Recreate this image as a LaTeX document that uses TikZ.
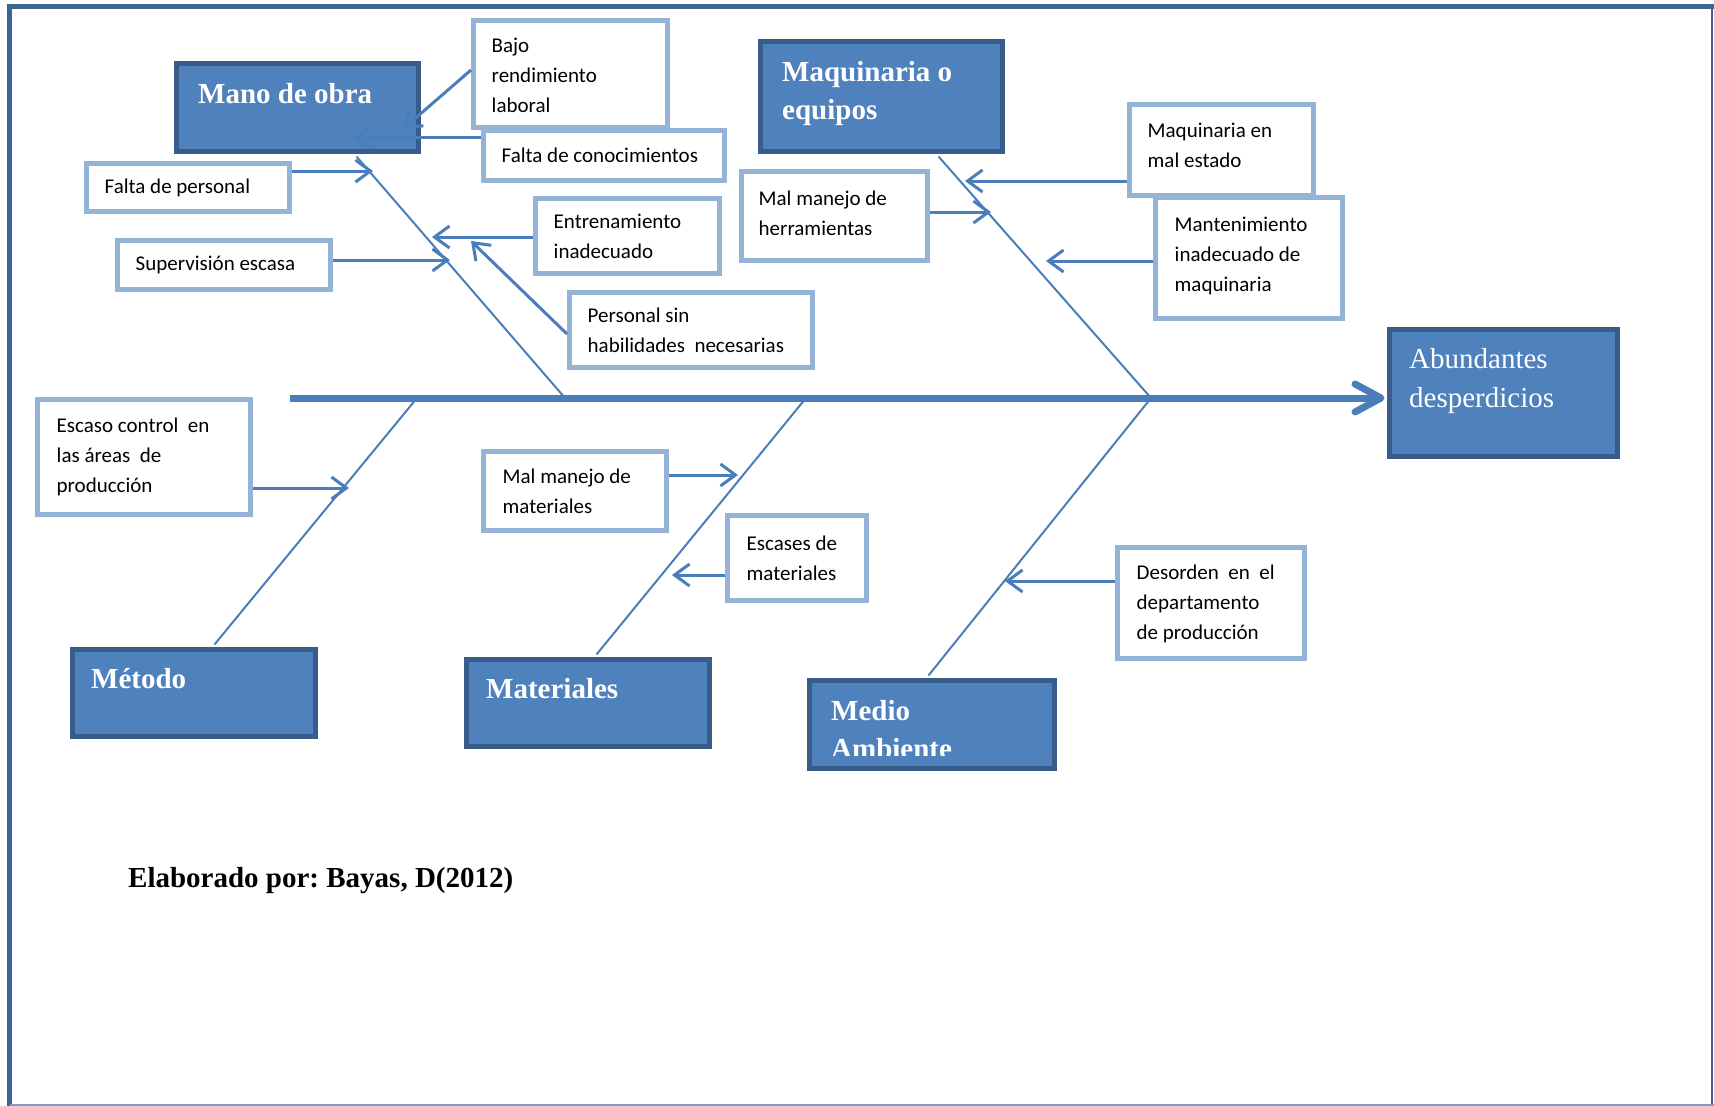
\documentclass[tikz,border=0pt]{standalone}
\usepackage{fontspec}
\setmainfont{Liberation Serif}
\newfontfamily\calfont{Carlito}
\usetikzlibrary{arrows.meta,calc}
\definecolor{boxfill}{HTML}{4F81BD}
\definecolor{boxline}{HTML}{385D8A}
\definecolor{lightline}{HTML}{95B3D7}
\definecolor{conn}{HTML}{4A7EBB}
\definecolor{framecol}{HTML}{3C6494}
\definecolor{framelight}{HTML}{7F9DC0}
\frenchspacing
\begin{document}
\begin{tikzpicture}[x=1pt,y=-1pt,
  bigbox/.style={draw=boxline, fill=boxfill, line width=5pt, rectangle, inner sep=0pt},
  bigtext/.style={text=white, font=\bfseries\fontsize{29}{38}\selectfont, anchor=base west, inner sep=0pt},
  regtext/.style={text=white, font=\fontsize{29}{38}\selectfont, anchor=base west, inner sep=0pt},
  sbox/.style={draw=lightline, fill=white, line width=5pt, rectangle, inner sep=0pt},
  stext/.style={font=\calfont\fontsize{21}{30}\selectfont, align=left, anchor=west, inner sep=0pt},
  bone/.style={draw=conn, line width=2pt},
  cause/.style={draw=conn, line width=3pt, -{Straight Barb[length=15pt,width=22pt]}},
  spine/.style={draw=conn, line width=7pt}]
\useasboundingbox (0,0) rectangle (1714,1106);
\fill[white] (0,0) rectangle (1714,1106);
% frame
\draw[framecol, line width=5pt] (9.5,1106) -- (9.5,6.5) -- (1714,6.5);
\draw[framecol, line width=2pt] (1712,6.5) -- (1712,1106);
\draw[framelight, line width=2pt] (9.5,1105) -- (1714,1105);

% spine
\coordinate (spinestart) at (290,398);
\coordinate (tip) at (1381,398);
\draw[spine] (spinestart) -- (tip);
\draw[spine, line cap=round, line join=round] ($(tip)+(-26,-14)$) -- (tip) -- ($(tip)+(-26,14)$);

% spine junctions
\coordinate (j1) at (565,398);
\coordinate (j2) at (1151,398);
\coordinate (j3) at (417,398);
\coordinate (j4) at (806,398);
\coordinate (j5) at (1151,398);

% main category boxes
\node[bigbox, minimum width=242pt, minimum height=88pt] (mano) at (297.5,107.5) {};
\node[bigbox, minimum width=242pt, minimum height=110pt] (maquin) at (881.5,96.5) {};
\node[bigbox, minimum width=228pt, minimum height=127pt] (abund) at (1503.5,393) {};
\node[bigbox, minimum width=243pt, minimum height=87pt] (metodo) at (194,693) {};
\node[bigbox, minimum width=243pt, minimum height=87pt] (mater) at (588,703) {};
\node[bigbox, minimum width=245pt, minimum height=88pt] (medio) at (932,724.5) {};

% bones (start at the outer edge of each box)
\draw[bone] ([shift={(182.5,2.5)}]mano.south west) -- (j1);
\draw[bone] ([shift={(180.5,2.5)}]maquin.south west) -- (j2);
\draw[bone] ([shift={(144.5,-2.5)}]metodo.north west) -- (j3);
\draw[bone] ([shift={(132.5,-2.5)}]mater.north west) -- (j4);
\draw[bone] ([shift={(121.5,-2.5)}]medio.north west) -- (j5);

% main box texts
\node[bigtext] (manot) at ([shift={(24,42)}]mano.north west) {Mano de obra};
\node[bigtext] (maquint1) at ([shift={(24,42)}]maquin.north west) {Maquinaria o};
\node[bigtext] (maquint2) at ([shift={(24,80)}]maquin.north west) {equipos};
\node[regtext] (abundt1) at ([shift={(22,41)}]abund.north west) {Abundantes};
\node[regtext] (abundt2) at ([shift={(22,80)}]abund.north west) {desperdicios};
\node[bigtext] (metodot) at ([shift={(21,41)}]metodo.north west) {Método};
\node[bigtext] (matert) at ([shift={(22,41)}]mater.north west) {Materiales};
\begin{scope}
\clip (807,678) rectangle (1057,755);
\node[bigtext] (mediot1) at ([shift={(24,42)}]medio.north west) {Medio};
\node[bigtext] (mediot2) at ([shift={(24,80)}]medio.north west) {Ambiente};
\end{scope}

% cause boxes
\node[sbox, minimum width=194pt, minimum height=107pt] (bajo) at (570.5,74) {};
\node[stext] (bajot) at ([shift={(20.5,1)}]bajo.west) {Bajo\\rendimiento\\laboral};
\node[sbox, minimum width=241pt, minimum height=50pt] (conoc) at (604,155.5) {};
\node[stext] (conoct) at ([xshift=20.5pt]conoc.west) {Falta de conocimientos};
\node[sbox, minimum width=203pt, minimum height=48pt] (fpers) at (188,187.5) {};
\node[stext] (fperst) at ([xshift=20.5pt]fpers.west) {Falta de personal};
\node[sbox, minimum width=213pt, minimum height=49pt] (superv) at (224,265) {};
\node[stext] (supervt) at ([xshift=20.5pt]superv.west) {Supervisión escasa};
\node[sbox, minimum width=184pt, minimum height=75pt] (entren) at (627.5,236) {};
\node[stext] (entrent) at ([xshift=20.5pt]entren.west) {Entrenamiento\\inadecuado};
\node[sbox, minimum width=243pt, minimum height=75pt] (persin) at (691,330) {};
\node[stext] (persint) at ([xshift=20.5pt]persin.west) {Personal sin\\habilidades\ \ necesarias};
\node[sbox, minimum width=186pt, minimum height=89pt] (herram) at (834.5,216) {};
\node[stext] (herramt) at ([shift={(19.5,-3)}]herram.west) {Mal manejo de\\herramientas};
\node[sbox, minimum width=184pt, minimum height=91pt] (maqmal) at (1221.5,150) {};
\node[stext] (maqmalt) at ([shift={(20.5,-5)}]maqmal.west) {Maquinaria en\\mal estado};
\node[sbox, minimum width=187pt, minimum height=121pt] (mant) at (1249,258) {};
\node[stext] (mantt) at ([shift={(21.5,-2)}]mant.west) {Mantenimiento\\inadecuado de\\maquinaria};
\node[sbox, minimum width=213pt, minimum height=115pt] (escaso) at (144,457) {};
\node[stext] (escasot) at ([xshift=21.5pt]escaso.west) {Escaso control\ \ en\\las áreas\ \ de\\producción};
\node[sbox, minimum width=183pt, minimum height=79pt] (malmat) at (575,491) {};
\node[stext] (malmatt) at ([xshift=21.5pt]malmat.west) {Mal manejo de\\materiales};
\node[sbox, minimum width=139pt, minimum height=85pt] (escases) at (797,558) {};
\node[stext] (escasest) at ([xshift=21.5pt]escases.west) {Escases de\\materiales};
\node[sbox, minimum width=187pt, minimum height=111pt] (desorden) at (1211,603) {};
\node[stext] (desordent) at ([shift={(21.5,1)}]desorden.west) {Desorden\ \ en\ \ el\\departamento\\de producción};

% arrow tips
\coordinate (t1) at (403,129);
\coordinate (t2) at (353,137);
\coordinate (t3) at (373,171);
\coordinate (t4) at (450,260);
\coordinate (t5) at (432,237);
\coordinate (t6) at (471,241);
\coordinate (t7) at (991,212);
\coordinate (t8) at (965,181);
\coordinate (t9) at (1046,261);
\coordinate (t10) at (349,488);
\coordinate (t11) at (738,475);
\coordinate (t12) at (672,575);
\coordinate (t13) at (1005,581);

% cause arrows
\draw[cause] ([yshift=4pt]bajo.west) -- (t1);
\draw[cause] (conoc.west |- t2) -- (t2);
\draw[cause] (fpers.east |- t3) -- (t3);
\draw[cause] (superv.east |- t4) -- (t4);
\draw[cause] (entren.west |- t5) -- (t5);
\draw[cause] ([yshift=-4pt]persin.west) -- (t6);
\draw[cause] (herram.east |- t7) -- (t7);
\draw[cause] (maqmal.west |- t8) -- (t8);
\draw[cause] (mant.west |- t9) -- (t9);
\draw[cause] (escaso.east |- t10) -- (t10);
\draw[cause] (malmat.east |- t11) -- (t11);
\draw[cause] (escases.west |- t12) -- (t12);
\draw[cause] (desorden.west |- t13) -- (t13);

% caption
\node[font=\bfseries\fontsize{29}{34}\selectfont, anchor=base west, inner sep=0pt] (caption) at (128,887) {Elaborado por: Bayas, D(2012)};
\end{tikzpicture}
\end{document}
